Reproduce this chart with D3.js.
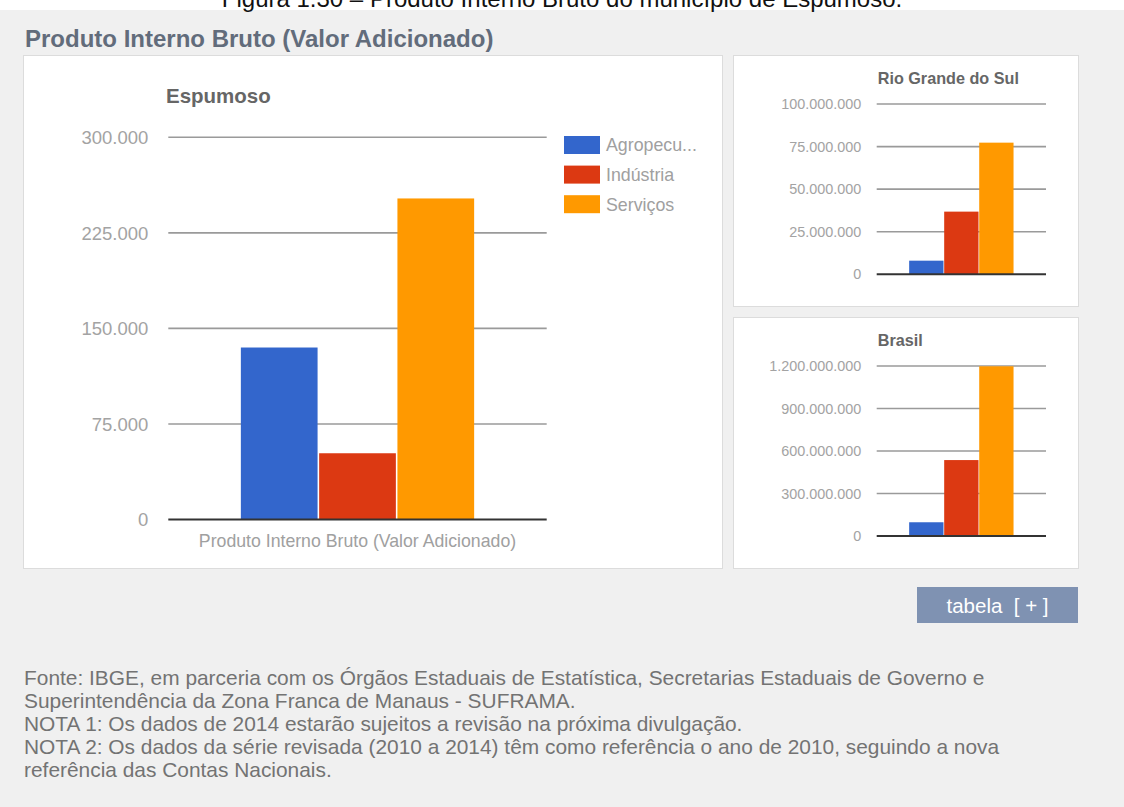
<!DOCTYPE html>
<html lang="pt-BR">
<head>
<meta charset="utf-8">
<script src="https://cdn.jsdelivr.net/npm/d3@7"></script>
<style>
  html, body { margin: 0; padding: 0; background: #f0f0f0; }
  svg { display: block; font-family: "Liberation Sans", Arial, sans-serif; }
</style>
</head>
<body>
<svg id="chart" width="1124" height="807"></svg>
<script>
// Sectors of the value added (legend order = bar order)
const sectors = ["Agropecu...", "Indústria", "Serviços"];
const sectorColors = ["#3366cc", "#dc3912", "#ff9900"];
const category = ["Produto Interno Bruto (Valor Adicionado)"];

// Value added by sector
const espumosoValues = [135000, 52000, 252000];
const rsValues = [8000000, 36800000, 77300000];
const brasilValues = [97000000, 536000000, 1198000000];

// Y axis ticks of each panel
const espumosoTicks = [0, 75000, 150000, 225000, 300000];
const rsTicks = [0, 25000000, 50000000, 75000000, 100000000];
const brasilTicks = [0, 300000000, 600000000, 900000000, 1200000000];

const footerLines = [
  "Fonte: IBGE, em parceria com os Órgãos Estaduais de Estatística, Secretarias Estaduais de Governo e",
  "Superintendência da Zona Franca de Manaus - SUFRAMA.",
  "NOTA 1: Os dados de 2014 estarão sujeitos a revisão na próxima divulgação.",
  "NOTA 2: Os dados da série revisada (2010 a 2014) têm como referência o ano de 2010, seguindo a nova",
  "referência das Contas Nacionais."
];

const ptBR = d3.formatLocale({ decimal: ",", thousands: ".", grouping: [3], currency: ["R$", ""] });
const fmt = ptBR.format(",d");

const svg = d3.select("#chart");

// white strip holding the figure caption
svg.append("rect").attr("x", 0).attr("y", 0).attr("width", 1124).attr("height", 10).attr("fill", "#ffffff");
svg.append("text")
  .attr("x", 562).attr("y", 7)
  .attr("text-anchor", "middle")
  .attr("font-size", 24).attr("fill", "#111")
  .text("Figura 1.30 – Produto Interno Bruto do município de Espumoso.");

// page heading
svg.append("text")
  .attr("x", 25).attr("y", 47)
  .attr("font-size", 24).attr("font-weight", "bold").attr("fill", "#626c7b")
  .text("Produto Interno Bruto (Valor Adicionado)");

function panel(x, y, w, h) {
  svg.append("rect")
    .attr("x", x + 0.5).attr("y", y + 0.5).attr("width", w).attr("height", h)
    .attr("fill", "#ffffff").attr("stroke", "#dcdcdc");
}

function barChart(opts) {
  const g = svg.append("g");
  const y = d3.scaleLinear().domain([0, d3.max(opts.ticks)]).range([opts.y0, opts.y1]);
  const x = d3.scaleBand().domain(category).range([opts.x0, opts.x1]).paddingInner(0).paddingOuter(0.311);
  const xs = d3.scaleBand().domain(sectors).range([0, x.bandwidth()]).paddingInner(0.02);

  // gridlines
  g.selectAll("line.grid").data(opts.ticks.filter(t => t > 0)).join("line")
    .attr("x1", opts.x0).attr("x2", opts.x1)
    .attr("y1", d => y(d)).attr("y2", d => y(d))
    .attr("stroke", "#9a9a9a").attr("stroke-width", 1.6);

  // tick labels
  g.selectAll("text.tick").data(opts.ticks).join("text")
    .attr("x", opts.x0 - opts.labelGap).attr("y", d => y(d))
    .attr("dy", "0.36em").attr("text-anchor", "end")
    .attr("font-size", opts.tickSize).attr("fill", "#a3a3a3")
    .text(d => fmt(d));

  // bars
  g.selectAll("rect.bar").data(opts.values).join("rect")
    .attr("x", (d, i) => x(category[0]) + xs(sectors[i]))
    .attr("width", xs.bandwidth())
    .attr("y", d => y(d))
    .attr("height", d => y(0) - y(d))
    .attr("fill", (d, i) => sectorColors[i]);

  // baseline
  g.append("line")
    .attr("x1", opts.x0).attr("x2", opts.x1)
    .attr("y1", y(0)).attr("y2", y(0))
    .attr("stroke", "#333").attr("stroke-width", 2);

  // title
  g.append("text")
    .attr("x", opts.titleX).attr("y", opts.titleY)
    .attr("font-size", opts.titleSize).attr("font-weight", "bold").attr("fill", "#666")
    .text(opts.title);
  return { x, y, g };
}

// main panel
panel(23, 55, 699, 513);
const main = barChart({
  values: espumosoValues, ticks: espumosoTicks,
  x0: 168.3, x1: 546.7, y0: 519.5, y1: 137.3,
  labelGap: 20, tickSize: 18.5,
  title: "Espumoso", titleX: 166, titleY: 103, titleSize: 20.5
});
main.g.append("text")
  .attr("x", (168.3 + 546.7) / 2).attr("y", 547)
  .attr("text-anchor", "middle").attr("font-size", 17.7).attr("fill", "#a0a0a0")
  .text(category[0]);

// legend
const legend = svg.append("g").attr("transform", "translate(564,136)");
const li = legend.selectAll("g").data(sectors).join("g")
  .attr("transform", (d, i) => `translate(0,${i * 29.6})`);
li.append("rect").attr("width", 36).attr("height", 18).attr("fill", (d, i) => sectorColors[i]);
li.append("text").attr("x", 42).attr("y", 9).attr("dy", "0.36em")
  .attr("font-size", 17.8).attr("fill", "#a0a0a0").text(d => d);

// Rio Grande do Sul panel
panel(733, 55, 345, 251);
barChart({
  values: rsValues, ticks: rsTicks,
  x0: 876.7, x1: 1046, y0: 274.3, y1: 104,
  labelGap: 15.5, tickSize: 14.4,
  title: "Rio Grande do Sul", titleX: 877.7, titleY: 84, titleSize: 16.2
});

// Brasil panel
panel(733, 317, 345, 251);
barChart({
  values: brasilValues, ticks: brasilTicks,
  x0: 876.7, x1: 1046, y0: 536, y1: 366,
  labelGap: 15.5, tickSize: 14.4,
  title: "Brasil", titleX: 877.7, titleY: 346, titleSize: 16.2
});

// table toggle button
svg.append("rect").attr("x", 917).attr("y", 587).attr("width", 161).attr("height", 36).attr("fill", "#7f92b2");
svg.append("text").attr("x", 997.5).attr("y", 606).attr("dy", "0.36em")
  .attr("text-anchor", "middle").attr("font-size", 20.5).attr("fill", "#ffffff")
  .attr("xml:space", "preserve")
  .text("tabela  [ + ]");

// source notes
svg.append("g").selectAll("text").data(footerLines).join("text")
  .attr("x", 24).attr("y", (d, i) => 685 + i * 23)
  .attr("font-size", 20.9).attr("fill", "#737373")
  .text(d => d);
</script>
</body>
</html>
